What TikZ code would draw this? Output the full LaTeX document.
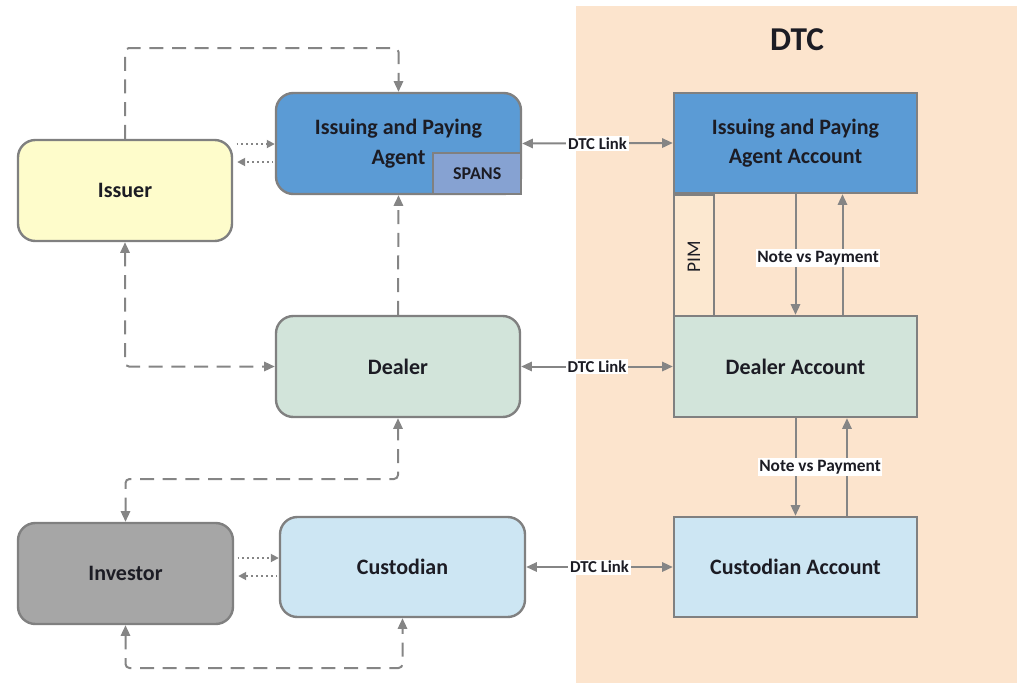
\documentclass[tikz,border=0pt]{standalone}
\usepackage{fontspec}
\setmainfont{Carlito}
\usetikzlibrary{arrows.meta,calc}
\definecolor{bordergrey}{HTML}{808080}
\definecolor{arrgrey}{HTML}{858585}
\definecolor{textdark}{HTML}{1C1C24}
\definecolor{dtcbg}{HTML}{FCE4CD}
\definecolor{pimfill}{HTML}{FCE8D0}
\definecolor{issuerfill}{HTML}{FEFCCB}
\definecolor{ipafill}{HTML}{5B9BD5}
\definecolor{spansfill}{HTML}{86A2D2}
\definecolor{dealerfill}{HTML}{D2E4DA}
\definecolor{investorfill}{HTML}{A6A6A6}
\definecolor{custfill}{HTML}{CDE6F3}
\begin{document}
\begin{tikzpicture}[x=0.75pt,y=-0.75pt,
  sz/.style 2 args={minimum width=#1*0.75pt, minimum height=#2*0.75pt},
  mainfont/.style={font=\bfseries\fontsize{16.5}{23}\selectfont, text=textdark},
  box/.style={draw=bordergrey, line width=1.8pt, rounded corners=13pt, mainfont, align=center, inner sep=0pt},
  acc/.style={draw=bordergrey, line width=1.8pt, mainfont, align=center, inner sep=0pt},
  tip/.style={-{Triangle[length=8pt,width=7pt]}},
  dasharr/.style={draw=arrgrey, line width=1.5pt, dash pattern=on 10.5pt off 6.5pt, rounded corners=3pt},
  dotarr/.style={draw=arrgrey, line width=1.3pt, dash pattern=on 1.3pt off 2.4pt, -{Triangle[length=6pt,width=6pt]}},
  linkarr/.style={draw=arrgrey, line width=1.5pt, {Triangle[length=8pt,width=7pt]}-{Triangle[length=8pt,width=7pt]}},
  vert/.style={draw=arrgrey, line width=1.5pt, tip},
  lab/.style={fill=white, inner sep=1.2pt, font=\bfseries\fontsize{12.5}{14}\selectfont, text=textdark}
]
\useasboundingbox (0,0) rectangle (1026,683);
% DTC background
\fill[dtcbg] (576,6) rectangle (1017,683);
\node[font=\bfseries\fontsize{25}{28}\selectfont, text=textdark] (dtc) at (797,40) {DTC};

% left-side boxes
\node[box, sz={214}{101}, fill=issuerfill] (issuer) at (125,190.5) {Issuer};
\node[box, sz={245}{101}, fill=ipafill] (ipa) at (398.5,143.5) {Issuing and Paying\\Agent};
\node[draw=bordergrey, line width=1.5pt, fill=spansfill, sz={88}{41}, anchor=south east,
      font=\bfseries\fontsize{13.5}{15}\selectfont, text=textdark, inner sep=0pt] (spans) at (ipa.south east) {SPANS};
\node[box, sz={244}{101}, fill=dealerfill] (dealer) at (398,366.5) {Dealer};
\node[box, sz={215}{101}, fill=investorfill] (investor) at (125.5,573.5) {Investor};
\node[box, sz={245}{100}, fill=custfill] (cust) at (402.5,567) {Custodian};

% DTC accounts
\node[acc, sz={243}{100}, fill=ipafill, font=\bfseries\fontsize{16.5}{22}\selectfont] (ipaacc) at (795.5,143) {Issuing and Paying\\Agent Account};
\node[draw=bordergrey, line width=1.5pt, fill=pimfill, sz={40}{123}, anchor=north west, inner sep=0pt] (pimbox) at (ipaacc.south west) {};
\node[rotate=90, font=\fontsize{14.5}{16}\selectfont, text=textdark] (pim) at (pimbox.center) {PIM};
\node[acc, sz={243}{101}, fill=dealerfill] (dealeracc) at (795.5,366.5) {Dealer Account};
\node[acc, sz={243}{100}, fill=custfill] (custacc) at (795.5,567) {Custodian Account};

% DTC links
\draw[linkarr] (ipa.east) -- (ipaacc.west) node[lab, midway] (l1) {DTC Link};
\draw[linkarr] (dealer.east) -- (dealeracc.west) node[lab, midway] (l2) {DTC Link};
\draw[linkarr] (cust.east) -- (custacc.west) node[lab, midway] (l3) {DTC Link};

% Note vs Payment
\draw[vert] (ipaacc.south) -- (dealeracc.north);
\draw[vert] ([xshift=35.25pt]dealeracc.north) -- ([xshift=35.25pt]ipaacc.south);
\node[lab, font=\bfseries\fontsize{13}{15}\selectfont] (nvp1) at (818,258) {Note vs Payment};
\draw[vert] (dealeracc.south) -- (custacc.north);
\draw[vert] ([xshift=38.6pt]custacc.north) -- ([xshift=38.6pt]dealeracc.south);
\node[lab, font=\bfseries\fontsize{13}{15}\selectfont] (nvp2) at (820,467) {Note vs Payment};

% dashed connectors
\coordinate (topc) at (398.5,48);
\draw[dasharr, tip] (issuer.north) |- (topc) -- (ipa.north);
\draw[dasharr, tip] (dealer.north) -- (ipa.south);
\draw[dasharr, {Triangle[length=8pt,width=7pt]}-{Triangle[length=8pt,width=7pt]}] (issuer.south) |- (dealer.west);
\coordinate (midc) at (398,479);
\draw[dasharr, {Triangle[length=8pt,width=7pt]}-{Triangle[length=8pt,width=7pt]}] (investor.north) |- (midc) -- (dealer.south);
\coordinate (botc) at (402.5,668);
\draw[dasharr, {Triangle[length=8pt,width=7pt]}-{Triangle[length=8pt,width=7pt]}] (investor.south) |- (botc) -- (cust.south);

% dotted connectors
\coordinate (ya) at (0,144);
\coordinate (yb) at (0,162);
\draw[dotarr] ([xshift=2.5pt]issuer.east |- ya) -- (ipa.west |- ya);
\draw[dotarr] ([xshift=-1pt]ipa.west |- yb) -- ([xshift=3pt]issuer.east |- yb);
\coordinate (yc) at (0,558);
\coordinate (yd) at (0,576);
\draw[dotarr] ([xshift=2.5pt]investor.east |- yc) -- (cust.west |- yc);
\draw[dotarr] ([xshift=-1pt]cust.west |- yd) -- ([xshift=3pt]investor.east |- yd);
\end{tikzpicture}
\end{document}
